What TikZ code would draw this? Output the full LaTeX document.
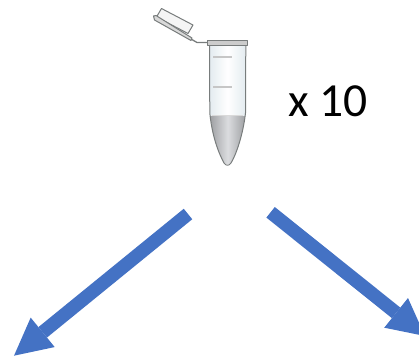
\documentclass[tikz,border=0pt]{standalone}
\usepackage{fontspec}
\setmainfont{Carlito}
\usetikzlibrary{arrows.meta}
\definecolor{arrowblue}{RGB}{68,114,196}
\definecolor{tubeedge}{RGB}{120,124,124}
\definecolor{glass}{RGB}{228,236,240}
\definecolor{liquid}{RGB}{200,202,206}
\tikzset{
  splitarrow/.style={draw=arrowblue,line width=13.5bp,-{Triangle[length=37bp,width=38bp,line width=0pt]}},
  tubeline/.style={draw=tubeedge,line width=1bp,line join=round},
  mark line/.style={draw=gray!45,line width=1.1bp},
  countlabel/.style={font=\fontsize{47.5bp}{50bp}\selectfont,text=black,inner sep=0pt,anchor=base west}
}
\begin{document}
\begin{tikzpicture}[x=1bp,y=-1bp]
\useasboundingbox (0,0) rectangle (419,357);
% tube body
\path[left color=glass,right color=glass,middle color=white]
  (210,45) rectangle (245,116);
\path[left color=liquid!80!black,right color=liquid!80!black,middle color=liquid!65!white]
  (210.5,116) -- (245,116) .. controls (243,135) and (236,155) .. (231,163) .. controls (229,165) and (226,165) .. (224,163) .. controls (218,152) and (212,135) .. (210.5,116) -- cycle;
\draw[tubeline]
  (209.5,45) -- (209.8,113) .. controls (212,135) and (218,152) .. (224,163) .. controls (226,166) and (229,166) .. (231,163) .. controls (236,155) and (243,135) .. (245.5,113) -- (245.8,45);
\draw[mark line] (213,57) -- (232,57);
\draw[mark line] (213,87) -- (232,87);
\draw[mark line,draw=gray!30] (212,115.5) -- (243,115.5);
% rim
\draw[tubeline,fill=gray!40] (207.3,40.5) rectangle (247.3,45);
% hinge
\draw[tubeline,line width=1.3bp] (191,39) -- (197,42.5) -- (207.3,42.5);
% cap
\draw[tubeline,fill=gray!8] (161.5,8.5) -- (193,25) -- (188,33.5) -- (156.5,17) -- cycle;
\draw[tubeline,fill=gray!30] (153.5,16) -- (156,15.5) -- (192,38) -- (191,40.5) -- (154.5,20) -- cycle;
% label
\node[countlabel] (count) at (288,116) {x 10};
% arrows
\coordinate (forkL) at (188,214);
\coordinate (endL) at (14,355.7);
\coordinate (forkR) at (270.6,212.3);
\coordinate (endR) at (425,336);
\draw[splitarrow] (forkL) -- (endL);
\draw[splitarrow] (forkR) -- (endR);
\end{tikzpicture}
\end{document}
